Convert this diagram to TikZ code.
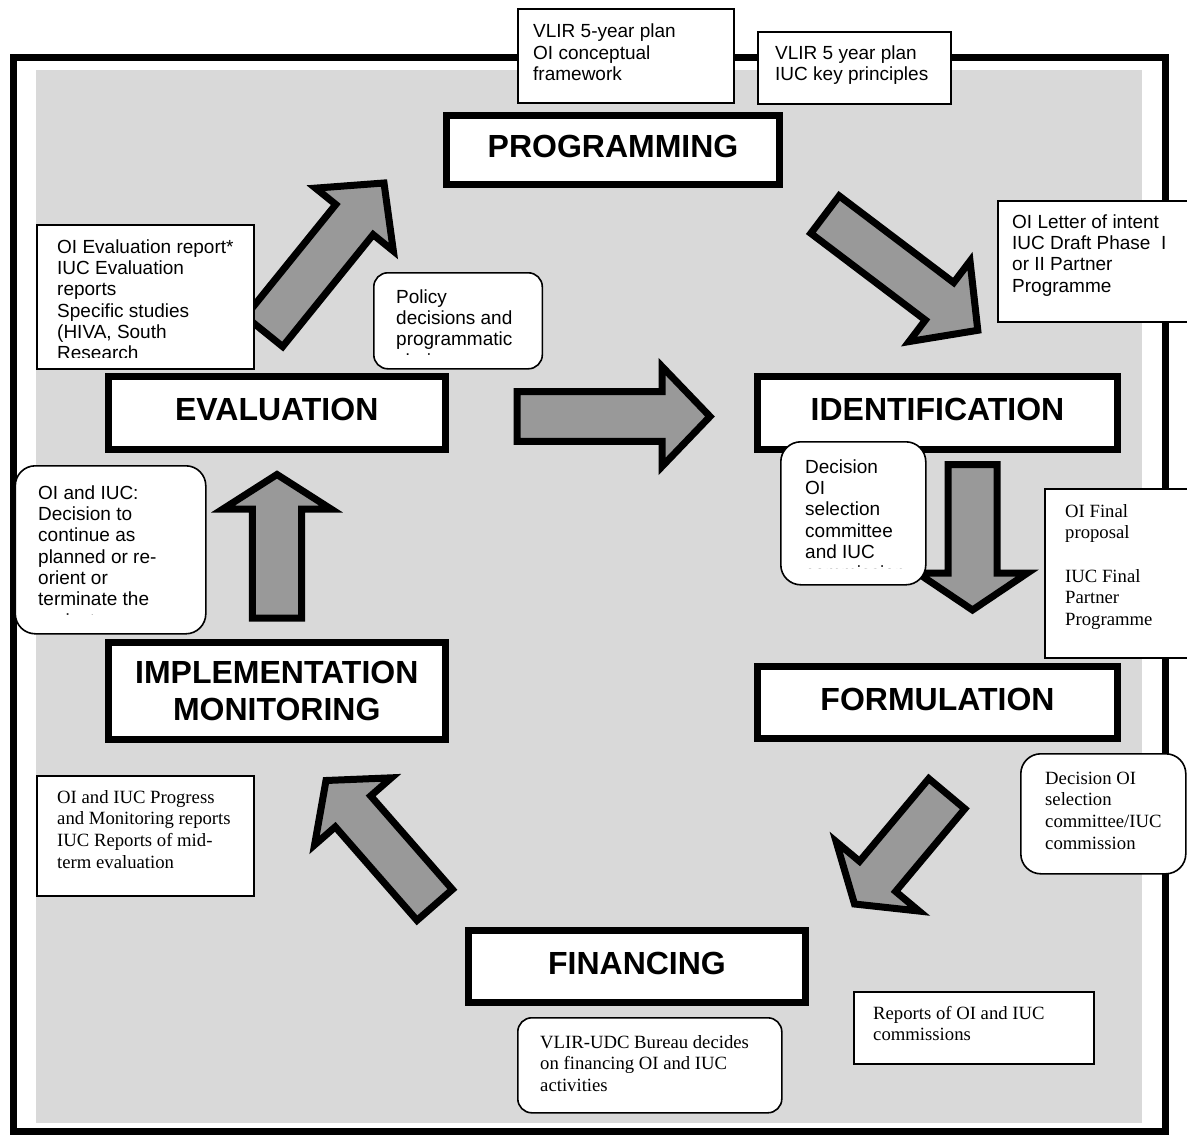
\documentclass[tikz,border=0pt]{standalone}
\usepackage{fontspec}
\setmainfont{Liberation Serif}
\setsansfont{Liberation Sans}
\usetikzlibrary{calc}

\definecolor{panelgray}{HTML}{D9D9D9}
\definecolor{arrowgray}{HTML}{999999}

% Block arrow: #1 tail, #2 tip, #3 shaft half-width, #4 head half-width, #5 head length
\newcommand{\blockarrow}[5]{%
  \coordinate (ba-n) at ($(#2)!#5!(#1)$);
  \draw[blockarrowstyle]
    ($(#1)!#3!90:(#2)$) -- ($(ba-n)!#3!90:(#2)$) -- ($(ba-n)!#4!90:(#2)$) -- (#2)
    -- ($(ba-n)!#4!-90:(#2)$) -- ($(ba-n)!#3!-90:(#2)$) -- ($(#1)!#3!-90:(#2)$) -- cycle;
}

\tikzset{
  blockarrowstyle/.style={draw=black, line width=7pt, fill=arrowgray, line join=miter, miter limit=10},
  phase/.style={draw=black, line width=7pt, fill=white, inner sep=0pt,
    font=\sffamily\bfseries\fontsize{32}{36}\selectfont, text height=23pt, text depth=8pt},
  phasetwo/.style={draw=black, line width=7pt, fill=white, inner sep=0pt, align=center,
    font=\sffamily\bfseries\fontsize{32}{37}\selectfont},
  infobox/.style={draw=black, line width=1.6pt, fill=white, inner sep=0pt, anchor=north west},
  roundbox/.style={infobox, rounded corners=#1},
  roundbox/.default=18pt,
  sanstext/.style={anchor=north west, inner sep=0pt, align=left,
    font=\sffamily\fontsize{19}{21.3}\selectfont},
  seriftext/.style={anchor=north west, inner sep=0pt, align=left,
    font=\rmfamily\fontsize{18.7}{21.6}\selectfont},
}

\begin{document}
\begin{tikzpicture}[x=1pt, y=-1pt]
\useasboundingbox (0,0) rectangle (1187,1135);

% background panel and outer frame
\fill[panelgray] (36,70) rectangle (1142,1123);
\draw[line width=7pt] (13,57) rectangle (1165,1131.5);

% reference documents on top
\node[infobox, minimum width=216pt, minimum height=94pt] (plan) at (517,8) {};
\node[sanstext] (plan-t) at (533,22.6) {\strut VLIR 5-year plan\\OI conceptual\\framework};
\node[infobox, minimum width=193pt, minimum height=72pt] (principles) at (757,31) {};
\node[sanstext] (principles-t) at (775,44.1) {\strut VLIR 5 year plan\\IUC key principles};

% block arrows of the cycle
\coordinate (a1t) at (264,331.5);   \coordinate (a1h) at (384,183);
\coordinate (a2t) at (825,214.6);   \coordinate (a2h) at (977.8,330.3);
\coordinate (a3t) at (517,416.5);   \coordinate (a3h) at (710,416.5);
\coordinate (a4t) at (972.5,464.5); \coordinate (a4h) at (972.5,610);
\coordinate (a5t) at (946.8,793.7); \coordinate (a5h) at (854.5,904);
\coordinate (a6t) at (434.7,904.9); \coordinate (a6h) at (326,780.5);
\coordinate (a7t) at (277,618);     \coordinate (a7h) at (277,474.5);
\blockarrow{a1t}{a1h}{24pt}{50pt}{47pt}
\blockarrow{a2t}{a2h}{23.5pt}{50.5pt}{48pt}
\blockarrow{a3t}{a3h}{24.8pt}{50pt}{48pt}
\blockarrow{a4t}{a4h}{24.5pt}{55pt}{37pt}
\blockarrow{a5t}{a5h}{23.5pt}{54pt}{36pt}
\blockarrow{a6t}{a6h}{23.5pt}{51pt}{41pt}
\blockarrow{a7t}{a7h}{24.6pt}{54pt}{34.5pt}

% phases
\node[phase, minimum width=333pt, minimum height=69pt] (prog) at (613,150) {PROGRAMMING};
\node[phase, minimum width=336.5pt, minimum height=73pt] (eval) at (276.75,413) {EVALUATION};
\node[phase, minimum width=360pt, minimum height=73pt] (ident) at (937.5,413) {IDENTIFICATION};
\node[phase, minimum width=360pt, minimum height=72pt] (form) at (937.5,702.5) {FORMULATION};
\node[phasetwo, minimum width=336.5pt, minimum height=97pt] (impl) at (276.75,691) {IMPLEMENTATION\\MONITORING};
\node[phase, minimum width=337pt, minimum height=72pt] (fin) at (637,966.5) {FINANCING};

% documents and decisions around the cycle
\node[infobox, minimum width=195pt, minimum height=121pt] (intent) at (997,200) {};
\node[sanstext] (intent-t) at (1012,213.1) {\strut OI Letter of intent\\IUC Draft Phase\ \ I\\or II Partner\\Programme};

\node[infobox, minimum width=217pt, minimum height=144pt] (evalrep) at (36,224) {};
\begin{scope}
  \clip (36,224) rectangle (253,357);
  \node[sanstext] (evalrep-t) at (57,238.1) {\strut OI Evaluation report*\\IUC Evaluation\\reports\\Specific studies\\(HIVA, South\\Research};
\end{scope}

\node[roundbox=14pt, minimum width=168.5pt, minimum height=96pt] (policy) at (373,272) {};
\begin{scope}
  \clip (373,272) rectangle (541,354.5);
  \node[sanstext] (policy-t) at (396,288.1) {\strut Policy\\decisions and\\programmatic\\choices};
\end{scope}

\node[roundbox=20pt, minimum width=190.5pt, minimum height=168pt] (review) at (14.5,465) {};
\begin{scope}
  \clip (14.5,465) rectangle (205,614);
  \node[sanstext] (review-t) at (38,484.1) {\strut OI and IUC:\\Decision to\\continue as\\planned or re-\\orient or\\terminate the\\project};
\end{scope}

\node[roundbox=20pt, minimum width=145pt, minimum height=143pt] (select) at (780,441) {};
\begin{scope}
  \clip (780,441) rectangle (925,568.5);
  \node[sanstext] (select-t) at (805,458.1) {\strut Decision\\OI\\selection\\committee\\and IUC\\commission};
\end{scope}

\node[infobox, minimum width=148pt, minimum height=169pt] (final) at (1044,488) {};
\node[seriftext] (final-t) at (1065,501.9) {\strut OI Final\\proposal\\\strut\\IUC Final\\Partner\\Programme};

\node[roundbox=20pt, minimum width=165pt, minimum height=120pt] (commission) at (1020,753) {};
\node[seriftext] (commission-t) at (1045,768.9) {\strut Decision OI\\selection\\committee/IUC\\commission};

\node[infobox, minimum width=217pt, minimum height=120pt] (progress) at (36,775) {};
\node[seriftext] (progress-t) at (57,787.9) {\strut OI and IUC Progress\\and Monitoring reports\\IUC Reports of mid-\\term evaluation};

\node[roundbox=14pt, minimum width=264pt, minimum height=95pt] (bureau) at (517,1017) {};
\node[seriftext] (bureau-t) at (540,1032.9) {\strut VLIR-UDC Bureau decides\\on financing OI and IUC\\activities};

\node[infobox, minimum width=240pt, minimum height=72pt] (reports) at (853,991) {};
\node[seriftext] (reports-t) at (873,1003.9) {\strut Reports of OI and IUC\\commissions};

\end{tikzpicture}
\end{document}
